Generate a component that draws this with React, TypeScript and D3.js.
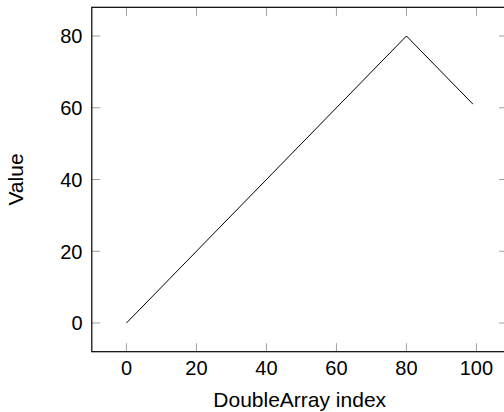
import React from 'react';
import * as d3 from 'd3';

// points (the line is straight between them)
const indexes = [0, 80, 99];
const values = [0, 80, 61];
const xTicks = [0, 20, 40, 60, 80, 100];
const yTicks = [0, 20, 40, 60, 80];

const W = 504;
const H = 412;
const FONT = '"Liberation Sans", Arial, sans-serif';

export default function App() {
  // pgfplots style: 10% enlarged limits
  const x = d3.scaleLinear().domain([-9.9, 108.9]).range([91.8, 507.6]);
  const y = d3.scaleLinear().domain([-8, 88]).range([351.7, 7.3]);

  const line = d3.line<number>()
    .x((d, i) => x(indexes[i]))
    .y(d => y(d));

  const [x0, x1] = x.range();
  const [y0, y1] = y.range();
  const tick = 8.5;

  return (
    <svg width={W} height={H} style={{position: 'absolute', left: 0, top: 0}}>
      <rect x={0} y={0} width={W} height={H} fill="#fff" />

      {/* ticks, inward on all four sides */}
      <g stroke="#a0a0a0" strokeWidth={1}>
        {xTicks.map(t => (
          <g key={'x' + t}>
            <line x1={x(t)} x2={x(t)} y1={y0} y2={y0 - tick} />
            <line x1={x(t)} x2={x(t)} y1={y1} y2={y1 + tick} />
          </g>
        ))}
        {yTicks.map(t => (
          <g key={'y' + t}>
            <line x1={x0} x2={x0 + tick} y1={y(t)} y2={y(t)} />
            <line x1={x1} x2={x1 - tick} y1={y(t)} y2={y(t)} />
          </g>
        ))}
      </g>

      <path d={line(values) || ''} fill="none" stroke="#000" strokeWidth={1} />

      <rect x={x0} y={y1} width={x1 - x0} height={y0 - y1}
        fill="none" stroke="#000" strokeWidth={1.2} />

      <g fontFamily={FONT} fontSize={20} fill="#000">
        {xTicks.map(t => (
          <text key={'xl' + t} x={x(t)} y={375} textAnchor="middle">{t}</text>
        ))}
        {yTicks.map(t => (
          <text key={'yl' + t} x={82.5} y={y(t) + 7.3} textAnchor="end">{t}</text>
        ))}
        <text x={(x0 + x1) / 2} y={406.5} fontSize={21} textAnchor="middle">DoubleArray index</text>
        <text transform={`translate(23,${(y0 + y1) / 2}) rotate(-90)`} fontSize={21} textAnchor="middle">Value</text>
      </g>
    </svg>
  );
}
